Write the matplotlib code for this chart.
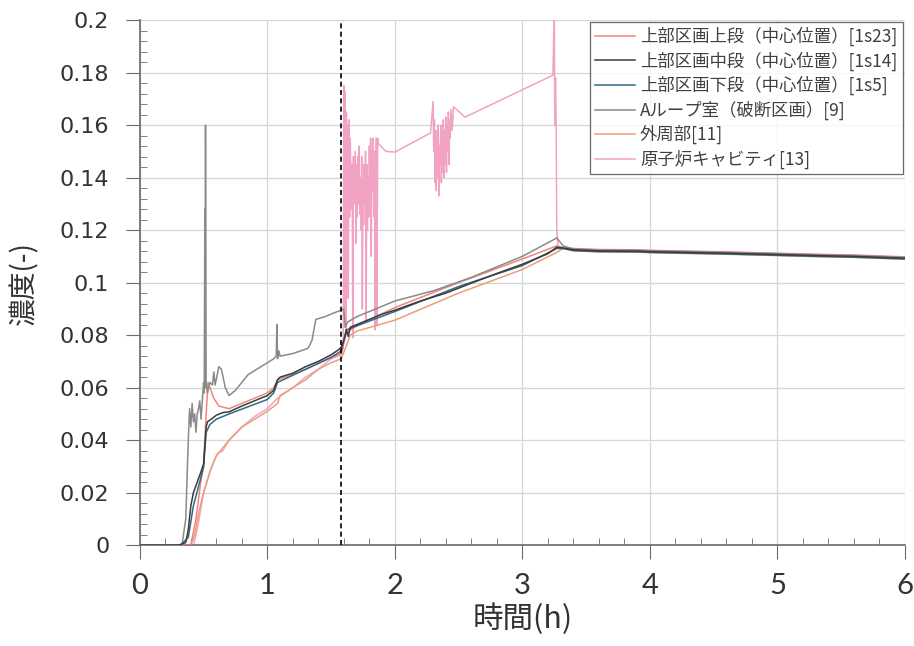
import matplotlib
matplotlib.use("Agg")
import matplotlib.pyplot as plt
from matplotlib.ticker import MultipleLocator, FormatStrFormatter

plt.rcParams["font.family"] = ["Noto Sans CJK JP", "DejaVu Sans"]

# --- data (time [h], concentration [-]) ---
labels = [
    "上部区画上段（中心位置）[1s23]",
    "上部区画中段（中心位置）[1s14]",
    "上部区画下段（中心位置）[1s5]",
    "Aループ室（破断区画）[9]",
    "外周部[11]",
    "原子炉キャビティ[13]",
]

tail_t = [3.40, 3.60, 3.90, 4.00, 4.30, 4.60, 5.00, 5.30, 5.60, 6.00]
tail_c = [0.1125, 0.1121, 0.1120, 0.1118, 0.1115, 0.1112, 0.1107, 0.1103, 0.1100, 0.1093]

s23_t = [0, 0.40, 0.44, 0.48, 0.50, 0.52, 0.535, 0.55, 0.58, 0.62, 0.70, 0.80, 1.00,
         1.05, 1.08, 1.20, 1.30, 1.50, 1.58, 1.62, 1.70, 2.00, 2.50, 3.00, 3.27, 3.32]
s23_c = [0, 0, 0.010, 0.025, 0.030, 0.050, 0.062, 0.060, 0.056, 0.053, 0.052, 0.054,
         0.058, 0.060, 0.063, 0.065, 0.067, 0.0715, 0.073, 0.081, 0.0835, 0.0905,
         0.1000, 0.1090, 0.1140, 0.1133]

s14_t = [0, 0.30, 0.36, 0.38, 0.40, 0.42, 0.45, 0.48, 0.50, 0.52, 0.53, 0.56, 0.60,
         0.65, 0.70, 0.80, 0.90, 1.00, 1.05, 1.08, 1.10, 1.20, 1.30, 1.40, 1.50,
         1.56, 1.58, 1.60, 1.62, 1.635, 1.65, 1.70, 1.80, 1.90, 2.00, 2.20, 2.40,
         2.60, 2.80, 3.00, 3.20, 3.27, 3.32]
s14_c = [0, 0, 0.001, 0.006, 0.015, 0.020, 0.024, 0.028, 0.031, 0.045, 0.047, 0.048,
         0.0495, 0.0505, 0.0508, 0.053, 0.055, 0.057, 0.059, 0.063, 0.064, 0.0655,
         0.068, 0.070, 0.0725, 0.0745, 0.0755, 0.078, 0.082, 0.0795, 0.083, 0.084,
         0.086, 0.088, 0.0895, 0.093, 0.096, 0.0998, 0.1035, 0.107, 0.111, 0.1135,
         0.1132]

s5_t = [0, 0.32, 0.38, 0.42, 0.48, 0.50, 0.52, 0.55, 0.60, 0.70, 1.00, 1.05, 1.08,
        1.30, 1.50, 1.58, 1.62, 1.70, 2.00, 2.50, 3.00, 3.27, 3.32]
s5_c = [0, 0, 0.003, 0.015, 0.026, 0.030, 0.043, 0.046, 0.048, 0.050, 0.0555, 0.058,
        0.062, 0.067, 0.0715, 0.074, 0.082, 0.0835, 0.0890, 0.0985, 0.1065, 0.1130,
        0.1130]

a9_t = [0, 0.33, 0.36, 0.38, 0.39, 0.40, 0.41, 0.42, 0.43, 0.44, 0.45, 0.46, 0.47,
        0.48, 0.49, 0.50, 0.505, 0.51, 0.512, 0.515, 0.52, 0.53, 0.55, 0.57, 0.58,
        0.59, 0.62, 0.64, 0.67, 0.70, 0.75, 0.85, 0.95, 1.05, 1.07, 1.075, 1.08,
        1.09, 1.10, 1.20, 1.32, 1.35, 1.38, 1.45, 1.55, 1.58, 1.60, 1.61, 1.63,
        1.70, 2.00, 2.31, 2.60, 3.00, 3.27, 3.32]
a9_c = [0, 0, 0.010, 0.040, 0.052, 0.045, 0.054, 0.047, 0.050, 0.043, 0.050, 0.052,
        0.055, 0.048, 0.055, 0.062, 0.058, 0.128, 0.060, 0.160, 0.062, 0.058, 0.062,
        0.061, 0.066, 0.061, 0.068, 0.067, 0.060, 0.057, 0.059, 0.065, 0.068, 0.071,
        0.072, 0.084, 0.071, 0.074, 0.072, 0.073, 0.075, 0.078, 0.086, 0.087, 0.089,
        0.0895, 0.090, 0.083, 0.085, 0.087, 0.093, 0.097, 0.102, 0.110, 0.117, 0.114]

o11_t = [0, 0.40, 0.43, 0.46, 0.50, 0.55, 0.60, 0.65, 0.70, 0.80, 0.90, 1.00, 1.08,
         1.10, 1.20, 1.30, 1.40, 1.50, 1.58, 1.62, 1.65, 1.70, 2.00, 2.50, 3.00,
         3.25, 3.32]
o11_c = [0, 0, 0.004, 0.012, 0.020, 0.028, 0.034, 0.037, 0.040, 0.045, 0.048, 0.051,
         0.054, 0.057, 0.060, 0.063, 0.067, 0.0695, 0.071, 0.076, 0.080, 0.0815,
         0.0857, 0.096, 0.105, 0.111, 0.113]

c13_t = [0, 0.42, 0.45, 0.50, 0.55, 0.58, 0.61, 0.65, 0.70, 0.80, 0.90, 1.00, 1.08,
         1.20, 1.30, 1.40, 1.50, 1.58, 1.595,
         1.60, 1.605, 1.61, 1.615, 1.62, 1.625, 1.63, 1.635, 1.64, 1.645, 1.65,
         1.66, 1.665, 1.67, 1.675, 1.68, 1.69, 1.695, 1.70, 1.705, 1.71, 1.715,
         1.72, 1.725, 1.73, 1.735, 1.74, 1.745, 1.75, 1.755, 1.76, 1.765, 1.77,
         1.775, 1.78, 1.785, 1.79, 1.795, 1.80, 1.805, 1.81, 1.815, 1.82, 1.825,
         1.83, 1.835, 1.84, 1.845, 1.85, 1.855, 1.86, 1.865, 1.87,
         1.93, 2.00, 2.28,
         2.30, 2.305, 2.31, 2.315, 2.32, 2.325, 2.33, 2.335, 2.34, 2.345, 2.35,
         2.355, 2.36, 2.365, 2.37, 2.375, 2.38, 2.385, 2.39, 2.395, 2.40, 2.405,
         2.41, 2.415, 2.42, 2.425, 2.43, 2.435, 2.44, 2.45, 2.46,
         2.55, 3.24, 3.25, 3.255, 3.26, 3.265, 3.27, 3.28]
c13_c = [0, 0, 0.006, 0.020, 0.028, 0.032, 0.035, 0.036, 0.040, 0.045, 0.049, 0.052,
         0.056, 0.060, 0.064, 0.067, 0.071, 0.0725, 0.075,
         0.175, 0.090, 0.173, 0.082, 0.165, 0.130, 0.160, 0.094, 0.162, 0.125,
         0.155, 0.128, 0.145, 0.079, 0.148, 0.130, 0.150, 0.115, 0.145, 0.125,
         0.148, 0.130, 0.152, 0.126, 0.140, 0.120, 0.148, 0.090, 0.140, 0.122,
         0.145, 0.130, 0.150, 0.086, 0.145, 0.120, 0.140, 0.125, 0.152, 0.130,
         0.155, 0.110, 0.150, 0.135, 0.155, 0.125, 0.150, 0.082, 0.140, 0.155,
         0.084, 0.155, 0.153,
         0.150, 0.1497, 0.157,
         0.169, 0.150, 0.162, 0.138, 0.158, 0.135, 0.155, 0.140, 0.160, 0.133,
         0.152, 0.145, 0.160, 0.138, 0.157, 0.142, 0.162, 0.140, 0.158, 0.145,
         0.163, 0.142, 0.160, 0.150, 0.165, 0.145, 0.162, 0.155, 0.166, 0.158,
         0.167, 0.163, 0.179, 0.205, 0.160, 0.178, 0.160, 0.120, 0.1135]

series = [
    (s23_t, s23_c, 0.0005, "#f3857c", 3),
    (s14_t, s14_c, 0.0, "#3b3b3b", 6),
    (s5_t, s5_c, -0.0003, "#2f6b85", 5),
    (a9_t, a9_c, 0.0003, "#8a8a8a", 4),
    (o11_t, o11_c, -0.0004, "#e9a07a", 2),
    (c13_t, c13_c, 0.0004, "#f2a2c2", 1),
]
dashed_t = 1.58

fig = plt.figure(figsize=(9.14, 6.46), dpi=100)
ax = fig.add_axes([0.153, 0.156, 0.837, 0.813])

for (t, c, off, col, z), lab in zip(series, labels):
    ax.plot(t + tail_t, c + [v + off for v in tail_c], color=col, lw=1.1,
            label=lab, zorder=z)

ax.axvline(dashed_t, color="black", ls=(0, (3, 2)), lw=1.2, zorder=7)

ax.set_xlim(0, 6)
ax.set_ylim(0, 0.2)
ax.xaxis.set_major_locator(MultipleLocator(1))
ax.xaxis.set_minor_locator(MultipleLocator(0.2))
ax.yaxis.set_major_locator(MultipleLocator(0.02))
ax.yaxis.set_minor_locator(MultipleLocator(0.004))
ax.yaxis.set_major_formatter(FormatStrFormatter("%g"))
ax.xaxis.set_major_formatter(FormatStrFormatter("%g"))

ax.grid(True, which="major", color="#d6d6d6", lw=0.9)
ax.set_axisbelow(True)
for side in ["top", "right"]:
    ax.spines[side].set_visible(False)
for side in ["left", "bottom"]:
    ax.spines[side].set_color("#6a6a6a")
    ax.spines[side].set_linewidth(1.2)

ax.tick_params(which="major", direction="out", length=10, color="#6a6a6a",
               labelcolor="#333333")
ax.tick_params(axis="y", which="major", labelsize=16, pad=12)
ax.tick_params(axis="x", which="major", labelsize=21, pad=10)
ax.tick_params(which="minor", direction="in", length=5, color="#6a6a6a")
for lab in ax.get_yticklabels():
    lab.set_family(["DejaVu Sans"])
for lab in ax.get_xticklabels():
    lab.set_family(["Lato", "DejaVu Sans"])

ax.set_xlabel("時間(h)", fontsize=22, color="#333333")
ax.set_ylabel("濃度(-)", fontsize=20, color="#333333")
ax.xaxis.set_label_coords(0.5, -0.11)
ax.yaxis.set_label_coords(-0.131, 0.5)

leg = ax.legend(loc="upper right", bbox_to_anchor=(0.997, 0.997), fontsize=12.5,
                frameon=True, fancybox=False, edgecolor="#444444",
                handlelength=2.3, borderpad=0.3, labelspacing=0.3,
                handletextpad=0.3, borderaxespad=0)
leg.get_frame().set_linewidth(0.9)
for txt in leg.get_texts():
    txt.set_color("#404040")

fig.savefig("out.png", dpi=100)
